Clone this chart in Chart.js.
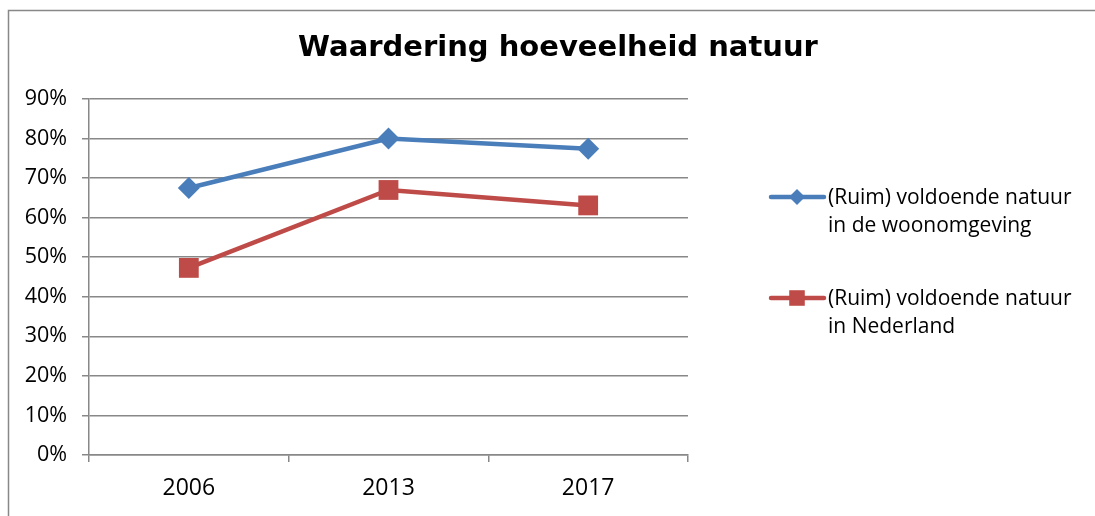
<!DOCTYPE html>
<html>
<head>
<meta charset="utf-8">
<script src="https://cdn.jsdelivr.net/npm/chart.js@4"></script>
<style>
    html, body { margin: 0; padding: 0; background: #fff; }
    #wrap { position: relative; width: 1095px; height: 516px; }
</style>
</head>
<body>
<div id="wrap"><canvas id="chart" width="1095" height="516"></canvas></div>
<script>
const years = ['2006', '2013', '2017']
const woonomgeving = [67.5, 80.0, 77.4]
const nederland = [47.3, 67.0, 63.1]
const seriesLabels = [
    ['(Ruim) voldoende natuur', 'in de woonomgeving'],
    ['(Ruim) voldoende natuur', 'in Nederland'],
]
const chartTitle = 'Waardering hoeveelheid natuur'

const blue = '#4a7ebb'
const red = '#be4b48'
const gridColor = '#888888'

// frame, title and legend drawn by hand
const extras = {
    id: 'extras',
    afterDraw(chart) {
        const ctx = chart.ctx
        ctx.save()
        ctx.strokeStyle = gridColor
        ctx.lineWidth = 1.5
        ctx.beginPath()
        ctx.moveTo(8.5, 516)
        ctx.lineTo(8.5, 10.5)
        ctx.lineTo(1095, 10.5)
        ctx.stroke()

        ctx.fillStyle = '#000'
        ctx.font = 'bold 29px "DejaVu Sans"'
        ctx.textAlign = 'center'
        ctx.textBaseline = 'middle'
        ctx.fillText(chartTitle, 558, 48)

        const items = [
            { color: blue, style: 'rectRot', y: 197, size: 8 },
            { color: red, style: 'rect', y: 298, size: 11 },
        ]
        ctx.textAlign = 'left'
        ctx.font = '21px "Open Sans"'
        items.forEach((item, i) => {
            ctx.strokeStyle = item.color
            ctx.fillStyle = item.color
            ctx.lineWidth = 4.5
            ctx.lineCap = 'round'
            ctx.beginPath()
            ctx.moveTo(771, item.y)
            ctx.lineTo(824, item.y)
            ctx.stroke()
            Chart.helpers.drawPoint(ctx, { pointStyle: item.style, radius: item.size, borderWidth: 0 }, 797, item.y)
            ctx.fillStyle = '#000'
            ctx.fillText(seriesLabels[i][0], 828, item.y + 1)
            ctx.fillText(seriesLabels[i][1], 828, item.y + 29)
        })
        ctx.restore()
    },
}

new Chart(document.getElementById('chart'), {
    type: 'line',
    data: {
        labels: years,
        datasets: [
            {
                label: seriesLabels[0].join(' '),
                data: woonomgeving,
                borderColor: blue,
                backgroundColor: blue,
                borderWidth: 4.5,
                pointStyle: 'rectRot',
                pointRadius: 11,
                pointBorderWidth: 0,
            },
            {
                label: seriesLabels[1].join(' '),
                data: nederland,
                borderColor: red,
                backgroundColor: red,
                borderWidth: 4.5,
                pointStyle: 'rect',
                pointRadius: 14,
                pointBorderWidth: 0,
            },
        ],
    },
    options: {
        responsive: false,
        animation: false,
        layout: { padding: { top: 99, right: 407, left: 0, bottom: 0 } },
        plugins: {
            legend: { display: false },
            title: { display: false },
            tooltip: { enabled: false },
        },
        scales: {
            x: {
                offset: true,
                grid: {
                    offset: true,
                    drawOnChartArea: false,
                    color: gridColor,
                    lineWidth: 1.5,
                    tickLength: 7,
                },
                border: { color: gridColor, width: 1.5 },
                ticks: { color: '#000', font: { family: 'Open Sans', size: 23 }, padding: 13, maxRotation: 0 },
                afterFit(scale) { scale.height = 61 },
            },
            y: {
                min: 0,
                max: 90,
                grid: { color: gridColor, lineWidth: 1.5, tickLength: 7 },
                border: { color: gridColor, width: 1.5 },
                ticks: {
                    stepSize: 10,
                    color: '#000',
                    font: { family: 'Open Sans', size: 21.5 },
                    padding: 15,
                    callback: (v) => v + '%',
                },
                afterFit(scale) { scale.width = 89 },
            },
        },
    },
    plugins: [extras],
})
</script>
</body>
</html>
